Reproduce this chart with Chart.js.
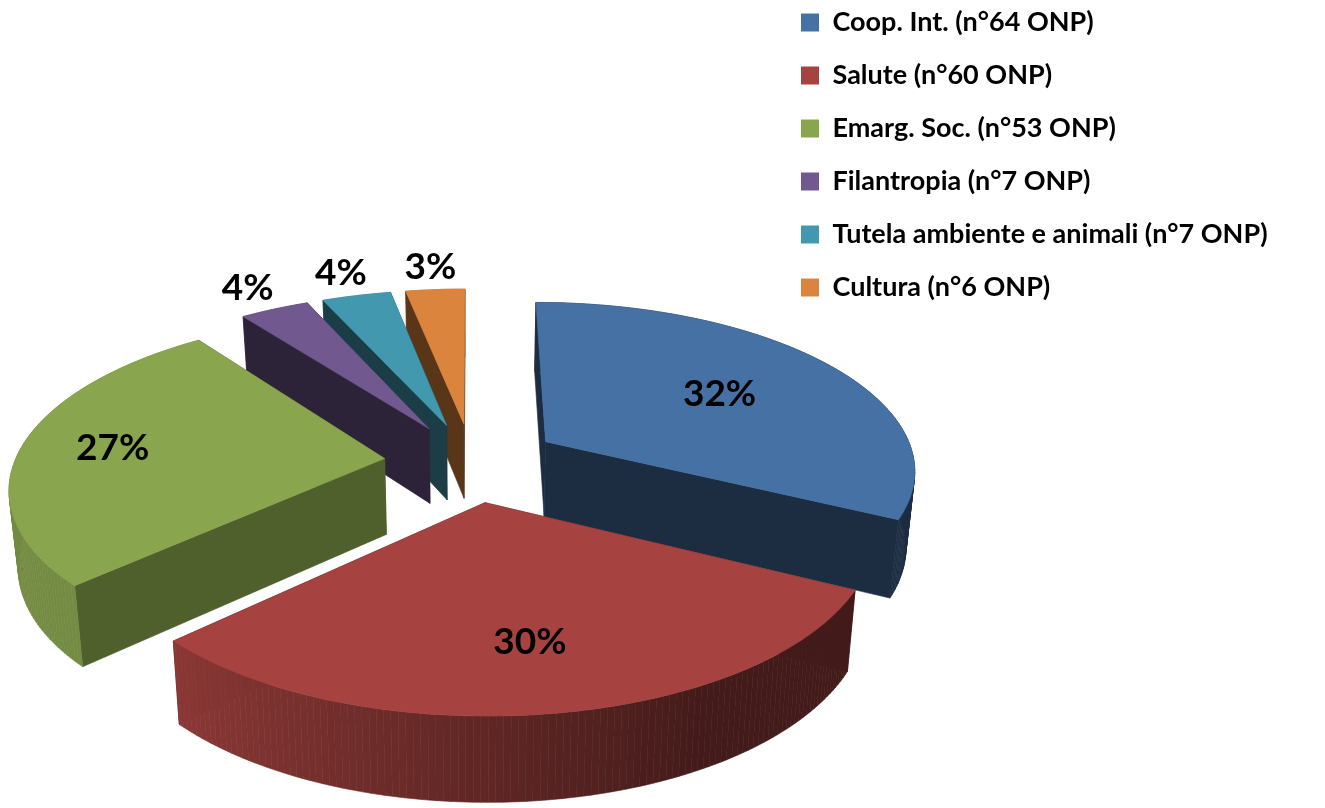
<!DOCTYPE html>
<html>
<head>
<meta charset="utf-8">
<title>ONP per settore</title>
<script src="https://cdn.jsdelivr.net/npm/chart.js"></script>
<style>
  html, body { margin: 0; background: #fff; }
  canvas { display: block; }
</style>
</head>
<body>
<canvas id="myChart" width="1325" height="808"></canvas>
<script>
  const categories = ['Coop. Int. (n°64 ONP)', 'Salute (n°60 ONP)', 'Emarg. Soc. (n°53 ONP)', 'Filantropia (n°7 ONP)', 'Tutela ambiente e animali (n°7 ONP)', 'Cultura (n°6 ONP)'];
  const counts = [64, 60, 53, 7, 7, 6];
  const colors = ['#4671a5', '#a64340', '#89a54e', '#71588f', '#4198af', '#db843d'];
  const sideShade = [0.4, 0.4, 0.58, 0.4, 0.4, 0.41];
  const labelFrac = [0.6, 0.7, 0.75, 1.2, 1.2, 1.2];
  const labelNudge = [[0, 0], [0, 0], [0, 0], [0, 0], [0, 0], [0, 0]];

  // camera for the fake 3d look
  const cam = { cx: 472, cy: 462, dist: 2400, tilt: 0.45, height: 76, lean: 0.02 };

  function project(X, Y, z) {
    const s = cam.dist / (cam.dist + Y);
    const k = 1 - z * cam.lean;
    return {
      x: cam.cx + X * s * k,
      y: cam.cy - cam.tilt * Y * s + z * cam.height * Math.pow(s, 0.6)
    };
  }

  function shade(hex, f) {
    const n = parseInt(hex.slice(1), 16);
    const c = [n >> 16 & 255, n >> 8 & 255, n & 255].map(v => Math.round(v * f));
    return 'rgb(' + c.join(',') + ')';
  }

  function fillPoly(ctx, pts, color) {
    ctx.beginPath();
    pts.forEach((p, i) => i ? ctx.lineTo(p.x, p.y) : ctx.moveTo(p.x, p.y));
    ctx.closePath();
    ctx.fillStyle = color;
    ctx.strokeStyle = color;
    ctx.lineWidth = 0.6;
    ctx.fill();
    ctx.stroke();
  }

  // outer wall gets lighter from right to left
  function wallShade(theta) {
    const deg = theta * 180 / Math.PI;
    return Math.min(0.84, Math.max(0.4, 0.4 + (deg - 150) * 0.44 / 76));
  }

  class Pie3D extends Chart.PieController {
    static id = 'pie3d';

    draw() {
      const ctx = this.chart.ctx;
      const arcs = this._cachedMeta.data;
      const slices = arcs.map((el, i) => {
        const p = el.getProps(['startAngle', 'endAngle', 'outerRadius'], true);
        const a0 = p.startAngle + Math.PI / 2;
        const a1 = p.endAngle + Math.PI / 2;
        const mid = (a0 + a1) / 2;
        const off = el.options.offset;
        return { i, a0, a1, mid, R: p.outerRadius, ox: off * Math.sin(mid), oy: off * Math.cos(mid) };
      });

      slices.slice().sort((a, b) => b.oy - a.oy).forEach(sl => {
        const color = colors[sl.i];
        const steps = Math.max(8, Math.round((sl.a1 - sl.a0) * 60));
        const pt = (th, r, z) => project(sl.ox + r * Math.sin(th), sl.oy + r * Math.cos(th), z);
        const faces = [];
        [sl.a0, sl.a1].forEach(th => {
          faces.push({
            depth: sl.oy + sl.R / 2 * Math.cos(th),
            pts: [pt(th, 0, 0), pt(th, sl.R, 0), pt(th, sl.R, 1), pt(th, 0, 1)],
            color: shade(color, sideShade[sl.i])
          });
        });
        for (let k = 0; k < steps; k++) {
          const t0 = sl.a0 + (sl.a1 - sl.a0) * k / steps;
          const t1 = sl.a0 + (sl.a1 - sl.a0) * (k + 1) / steps;
          faces.push({
            depth: sl.oy + sl.R * Math.cos((t0 + t1) / 2),
            pts: [pt(t0, sl.R, 0), pt(t1, sl.R, 0), pt(t1, sl.R, 1), pt(t0, sl.R, 1)],
            color: shade(color, wallShade((t0 + t1) / 2))
          });
        }
        faces.sort((a, b) => b.depth - a.depth).forEach(f => fillPoly(ctx, f.pts, f.color));

        const top = [pt(sl.a0, 0, 0)];
        for (let k = 0; k <= steps; k++) {
          top.push(pt(sl.a0 + (sl.a1 - sl.a0) * k / steps, sl.R, 0));
        }
        fillPoly(ctx, top, color);
      });

      const total = counts.reduce((a, b) => a + b, 0);
      ctx.fillStyle = '#000';
      ctx.font = 'bold 37px Lato';
      ctx.textAlign = 'center';
      ctx.textBaseline = 'middle';
      slices.forEach(sl => {
        const r = sl.R * labelFrac[sl.i];
        const p = project(sl.ox + r * Math.sin(sl.mid), sl.oy + r * Math.cos(sl.mid), 0);
        const txt = Math.round(counts[sl.i] / total * 100) + '%';
        ctx.fillText(txt, p.x + labelNudge[sl.i][0], p.y + labelNudge[sl.i][1]);
      });
    }
  }
  Chart.register(Pie3D);

  // legend sits top right, over the chart area
  const legendPlace = {
    id: 'legendPlace',
    beforeDraw(chart) {
      const lg = chart.legend;
      lg.left = 775;
      lg.right = 1325;
      lg.top = -17;
      lg.bottom = 400;
    }
  };

  new Chart(document.getElementById('myChart'), {
    type: 'pie3d',
    plugins: [legendPlace],
    data: {
      labels: categories,
      datasets: [{
        data: counts,
        backgroundColor: colors,
        offset: 88,
        borderWidth: 0
      }]
    },
    options: {
      responsive: false,
      animation: false,
      radius: 370,
      plugins: {
        tooltip: { enabled: false },
        legend: {
          position: 'chartArea',
          align: 'start',
          labels: {
            boxWidth: 18,
            boxHeight: 18,
            padding: 26,
            color: '#000',
            font: { family: 'Lato', size: 27, weight: 'bold' }
          }
        }
      }
    }
  });
</script>
</body>
</html>
